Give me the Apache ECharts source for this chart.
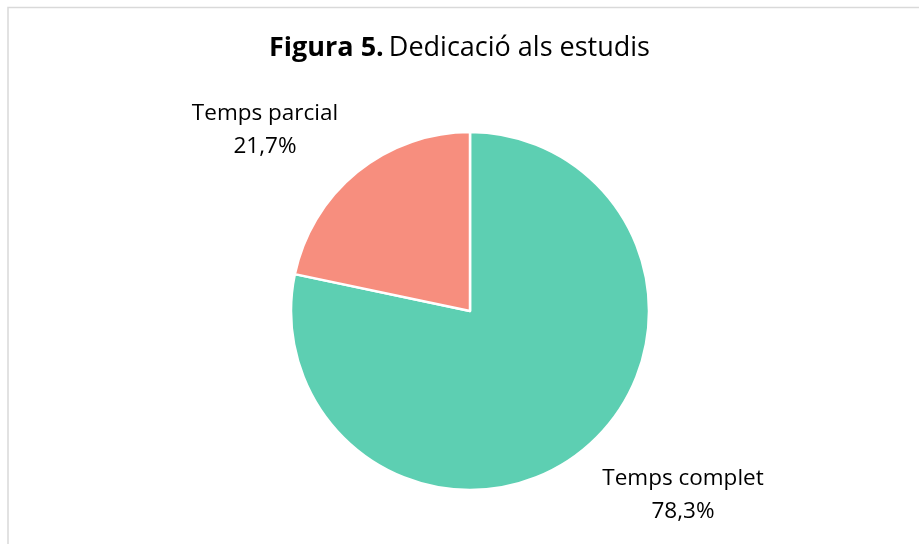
<!DOCTYPE html>
<html>
<head>
<meta charset="utf-8">
<script src="https://cdn.jsdelivr.net/npm/echarts@6/dist/echarts.min.js"></script>
<style>
  html, body { margin: 0; padding: 0; background: #fff; }
  #chart { width: 919px; height: 544px; }
</style>
</head>
<body>
<div id="chart"></div>
<script>
  var categories = ['Temps complet', 'Temps parcial'];
  var values = [78.3, 21.7];
  var colors = ['#5dcfb2', '#f78e7e'];

  // where each label sits (Excel best-fit placement)
  var labelPos = [[683, 495], [265, 130]];

  var font = '"Open Sans", "Noto Sans", sans-serif';

  var chart = echarts.init(document.getElementById('chart'));
  chart.setOption({
    animation: false,
    backgroundColor: '#fff',
    title: {
      text: '{b|Figura 5.} {n|Dedicació als estudis}',
      left: 'center',
      top: 30,
      textStyle: {
        fontWeight: 'normal',
        rich: {
          b: { fontFamily: font, fontSize: 27, fontWeight: 'bold', color: '#000' },
          n: { fontFamily: font, fontSize: 27, fontWeight: 'normal', color: '#000' }
        }
      }
    },
    graphic: [{
      type: 'rect',
      shape: { x: 8, y: 7.5, width: 1000, height: 1000 },
      style: { fill: 'none', stroke: '#d9d9d9', lineWidth: 1.5 },
      silent: true
    }],
    series: [{
      type: 'pie',
      center: [470, 311],
      radius: 179,
      startAngle: 90,
      clockwise: true,
      data: categories.map(function(c, i) {
        return { name: c, value: values[i], itemStyle: { color: colors[i] } };
      }),
      itemStyle: { borderColor: '#fff', borderWidth: 2.5 },
      label: {
        show: true,
        position: 'outside',
        fontFamily: font,
        fontSize: 22.5,
        lineHeight: 33,
        color: '#000',
        align: 'center',
        formatter: function(p) {
          return p.name + '\n' + p.value.toFixed(1).replace('.', ',') + '%';
        }
      },
      labelLine: { show: false },
      labelLayout: function(p) {
        var pos = labelPos[p.dataIndex];
        return { x: pos[0], y: pos[1], align: 'center', verticalAlign: 'middle' };
      },
      emphasis: { disabled: true }
    }]
  });
</script>
</body>
</html>
